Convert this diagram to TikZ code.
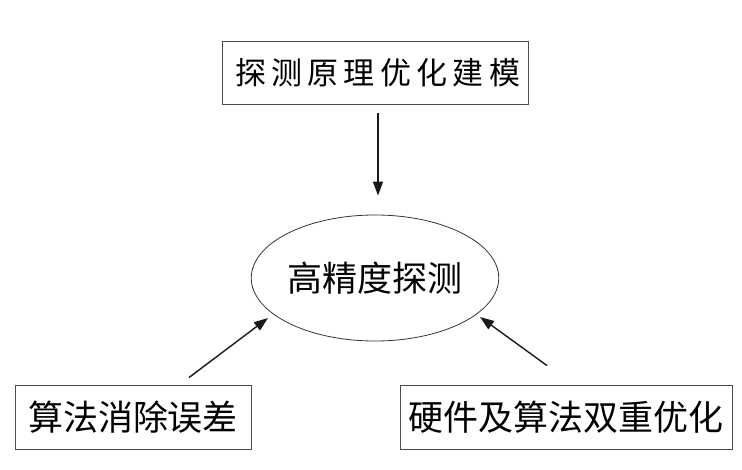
\documentclass[tikz,border=0pt]{standalone}
\usepackage{fontspec}
\newfontfamily\cjk{Noto Sans CJK SC}
\newfontfamily\cjktop[LetterSpace=17]{Noto Sans CJK SC}
\usetikzlibrary{arrows.meta,shapes.geometric}
\begin{document}
\begin{tikzpicture}[x=1pt,y=-1pt,
  boxst/.style={draw=black!70,line width=0.9pt,rectangle,inner sep=0pt,anchor=center},
  arr/.style={draw=black!90,line width=1.4pt,-{Triangle[length=14pt,width=10pt]}}]
\useasboundingbox (0,0) rectangle (742,470);
\node[boxst,minimum width=306pt,minimum height=63pt] (top) at (375,72.5)
  {\cjktop\fontsize{31}{36}\selectfont 探测原理优化建模\hspace*{-5.3pt}};
\node[draw=black!80,line width=0.8pt,ellipse,minimum width=224pt,minimum height=126pt,inner sep=0pt] (ell) at (375,278)
  {\cjk\fontsize{35}{40}\selectfont 高精度探测};
\node[boxst,minimum width=236pt,minimum height=64pt] (left) at (133,417)
  {\cjk\fontsize{35}{40}\selectfont 算法消除误差};
\node[boxst,minimum width=332pt,minimum height=64pt] (right) at (566,417)
  {\cjk\fontsize{35}{40}\selectfont 硬件及算法双重优化};
\path (top.south) ++(3,9) coordinate (t1);
\path (ell.north) ++(3,-19) coordinate (t2);
\path (left.north) ++(56,-7) coordinate (l1);
\path (ell.center) ++(-107,40) coordinate (l2);
\path (right.north) ++(-19,-19) coordinate (r1);
\path (ell.center) ++(105,39) coordinate (r2);
\draw[arr] (t1) -- (t2);
\draw[arr] (l1) -- (l2);
\draw[arr] (r1) -- (r2);
\end{tikzpicture}
\end{document}
